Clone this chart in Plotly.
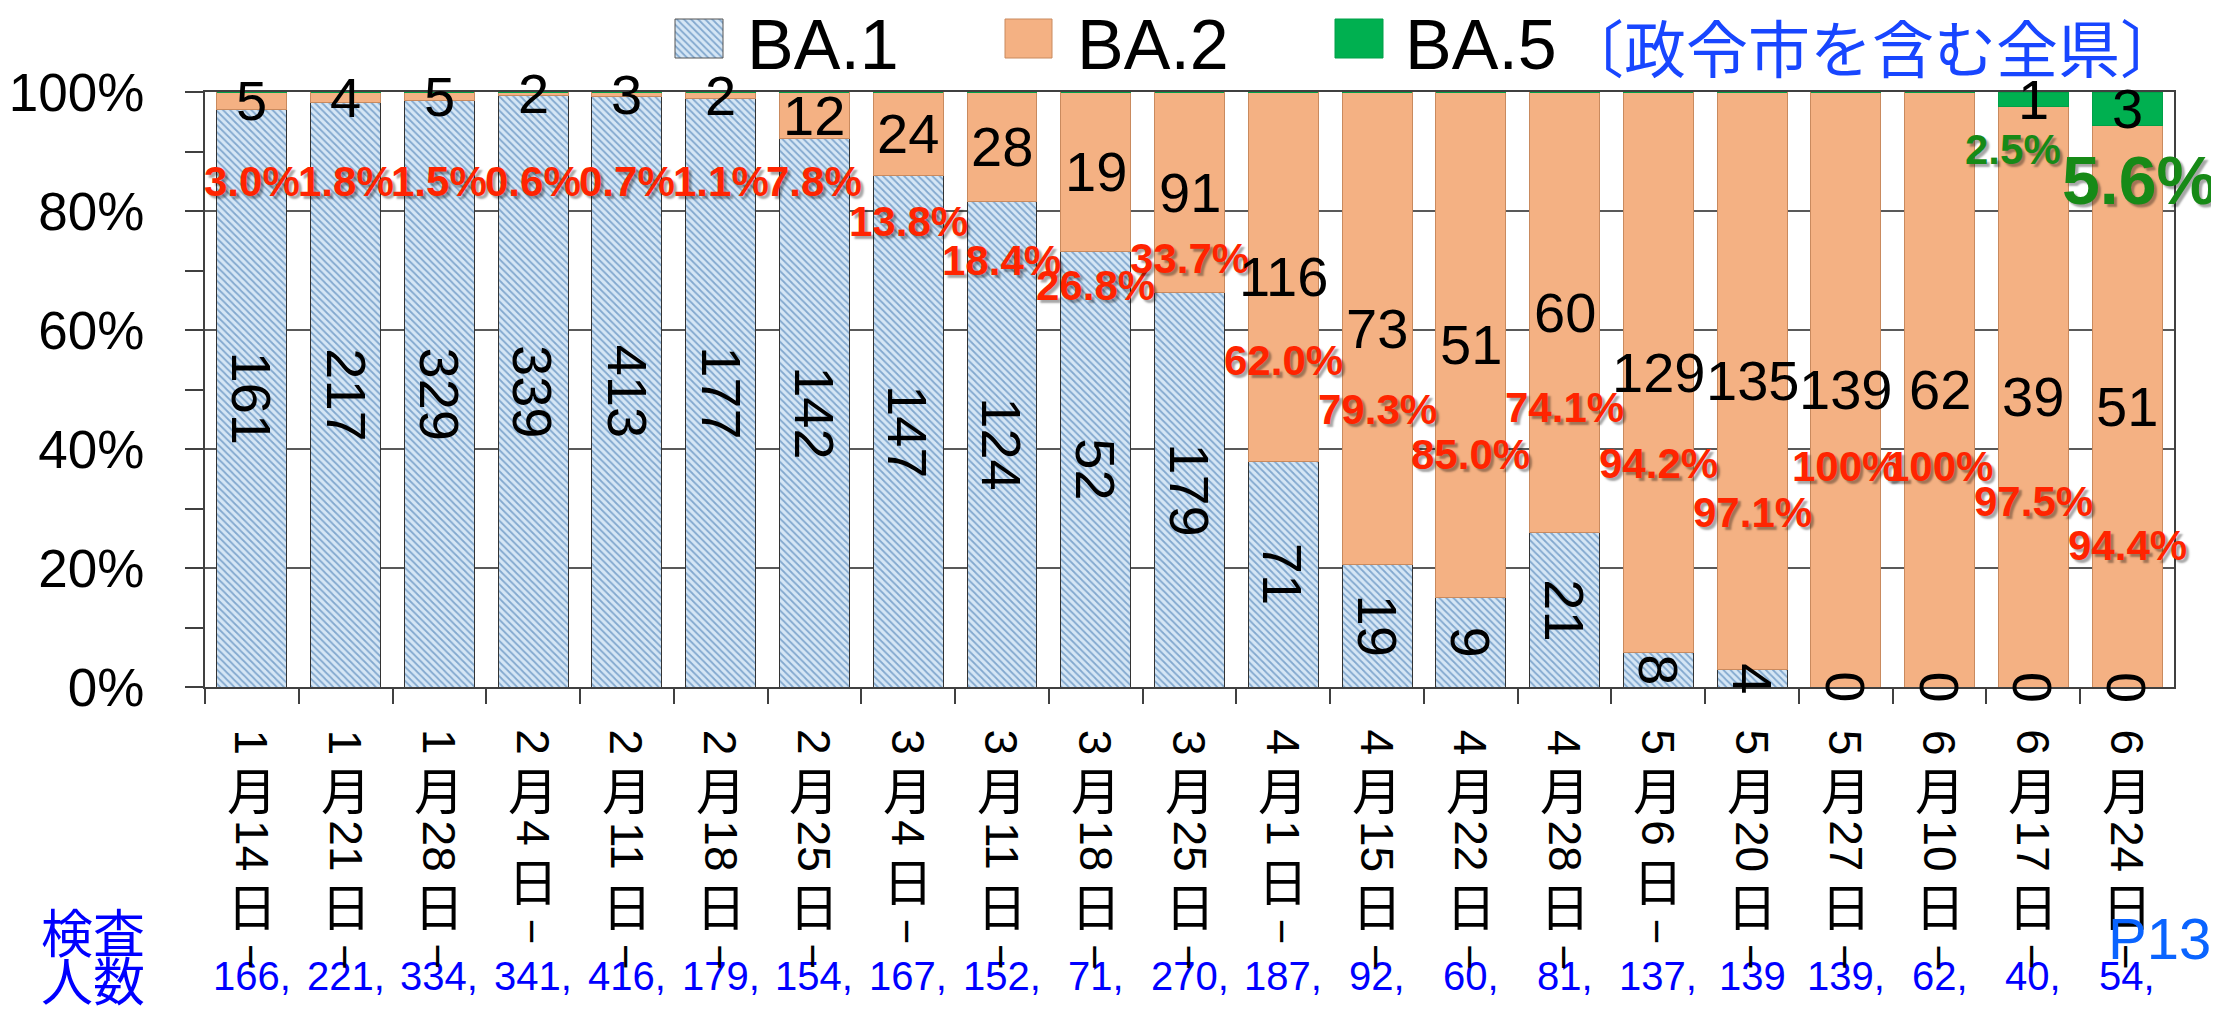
import re
import plotly.graph_objects as go

# ---------------- data ----------------
categories = ["1月14日−", "1月21日−", "1月28日−", "2月4日−", "2月11日−", "2月18日−",
              "2月25日−", "3月4日−", "3月11日−", "3月18日−", "3月25日−", "4月1日−",
              "4月15日−", "4月22日−", "4月28日−", "5月6日−", "5月20日−", "5月27日−",
              "6月10日−", "6月17日−", "6月24日−"]
ba1 = [161, 217, 329, 339, 413, 177, 142, 147, 124, 52, 179, 71, 19, 9, 21, 8, 4, 0, 0, 0, 0]
ba2 = [5, 4, 5, 2, 3, 2, 12, 24, 28, 19, 91, 116, 73, 51, 60, 129, 135, 139, 62, 39, 51]
ba5 = [0, 0, 0, 0, 0, 0, 0, 0, 0, 0, 0, 0, 0, 0, 0, 0, 0, 0, 0, 1, 3]
ba2_pct = ["3.0%", "1.8%", "1.5%", "0.6%", "0.7%", "1.1%", "7.8%", "13.8%", "18.4%", "26.8%",
           "33.7%", "62.0%", "79.3%", "85.0%", "74.1%", "94.2%", "97.1%", "100%", "100%",
           "97.5%", "94.4%"]
ba5_pct = ["", "", "", "", "", "", "", "", "", "", "", "", "", "", "", "", "", "", "",
           "2.5%", "5.6%"]
tested = ["166,", "221,", "334,", "341,", "416,", "179,", "154,", "167,", "152,", "71,",
          "270,", "187,", "92,", "60,", "81,", "137,", "139", "139,", "62,", "40,", "54,"]

# ---------------- layout helpers ----------------
W, H = 2219, 1011
OFF = 8                  # page body margin
FW, FH = W - OFF, H - OFF
X0, X1 = 205, 2174      # plot area (page px)
Y0, Y1 = 92, 687

SANS = "Liberation Sans, Arial, sans-serif"
JP = "Noto Sans CJK JP, sans-serif"
RED = "#ff2400"
GREEN = "#178a17"
BLUE = "#0000ff"
SHADOW = "3px 3px 2px rgba(0,0,0,0.35)"

# where the red % labels sit (in % units of the y axis)
pct_label_y = [85, 85, 85, 85, 85, 85, 85, 78.2, 71.6, 67.4, 72.1, 54.8, 46.7, 39.0,
               46.9, 37.5, 29.4, 37.0, 37.0, 31.1, 23.7]

hatch = dict(shape="\\", fgcolor="#2f6aa8", bgcolor="#d5e6f5", size=5, solidity=0.35)

fig = go.Figure()
fig.add_trace(go.Bar(x=categories, y=ba1, name="BA.1",
                     marker=dict(color="#d5e6f5", pattern=hatch,
                                 line=dict(color="#333333", width=1))))
fig.add_trace(go.Bar(x=categories, y=ba2, name="BA.2",
                     marker=dict(color="#f4b183", line=dict(color="#c98a5e", width=1))))
fig.add_trace(go.Bar(x=categories, y=ba5, name="BA.5",
                     marker=dict(color="#00b050", line=dict(color="#00a048", width=1))))

# legend swatch with the hatch (pixel overlay axes)
fig.add_trace(go.Scatter(x=[675, 723, 723, 675, 675], y=[19, 19, 58, 58, 19],
                         xaxis="x2", yaxis="y2", mode="lines", fill="toself",
                         fillcolor="#d5e6f5", fillpattern=hatch,
                         line=dict(color="#555555", width=1), hoverinfo="skip"))

ann = []
for i, c in enumerate(categories):
    tot = ba1[i] + ba2[i] + ba5[i]
    p1 = ba1[i] / tot * 100
    p2 = ba2[i] / tot * 100
    p5 = ba5[i] / tot * 100
    ann.append(dict(x=c, y=p1 / 2, text=str(ba1[i]), textangle=90,
                    font=dict(size=56, family=SANS, color="black")))
    ann.append(dict(x=c, y=p1 + p2 / 2, text=str(ba2[i]),
                    font=dict(size=56, family=SANS, color="black")))
    if ba5[i] > 0:
        ann.append(dict(x=c, y=p1 + p2 + p5 / 2, text=str(ba5[i]),
                        font=dict(size=56, family=SANS, color="black")))
    ann.append(dict(x=c, y=pct_label_y[i], text=ba2_pct[i],
                    font=dict(size=42, family=SANS, color=RED, weight="bold", shadow=SHADOW)))
    # blue tested counts
    ann.append(dict(x=c, xref="x", y=976, yref="y2", text=tested[i],
                    font=dict(size=40, family=SANS, color=BLUE)))
    # vertical date label, token by token
    ypos = 730
    for tok in re.findall(r"\d+|月|日|−", c):
        if tok.isdigit():
            h = 25 * len(tok)
            ann.append(dict(x=c, y=ypos + h / 2, yref="y2", text=tok, textangle=90,
                            font=dict(size=46, family=SANS, color="black")))
        elif tok == "−":
            h = 40
            ann.append(dict(x=c, y=ypos + h / 2, yref="y2", text=tok, textangle=90,
                            font=dict(size=44, family=SANS, color="black")))
        else:
            h = 66
            ann.append(dict(x=c, y=ypos + h / 2, yref="y2", text=tok,
                            font=dict(size=50, family=JP, color="black")))
        ypos += h

# BA.5 percentages
ann.append(dict(x=categories[19], y=90.3, xshift=-20, text=ba5_pct[19],
                font=dict(size=42, family=SANS, color=GREEN, weight="bold", shadow=SHADOW)))
ann.append(dict(x=categories[20], y=85.2, xshift=12, text=ba5_pct[20],
                font=dict(size=68, family=SANS, color=GREEN, weight="bold", shadow=SHADOW)))

# legend texts, title, footers (page pixel coordinates)
for txt, x in [("BA.1", 745), ("BA.2", 1075), ("BA.5", 1403)]:
    ann.append(dict(x=x, y=45, xref="x2", yref="y2", text=txt, xanchor="left",
                    font=dict(size=70, family=SANS, color="black")))
ann.append(dict(x=1560, y=46, xref="x2", yref="y2", text="〔政令市を含む全県〕", xanchor="left",
                font=dict(size=62, family=JP, color="#1846ff")))
ann.append(dict(x=93, y=930, xref="x2", yref="y2", text="検査",
                font=dict(size=52, family=JP, color=BLUE)))
ann.append(dict(x=93, y=978, xref="x2", yref="y2", text="人数",
                font=dict(size=52, family=JP, color=BLUE)))
ann.append(dict(x=2106, y=938, xref="x2", yref="y2", text="P13", xanchor="left",
                font=dict(size=58, family=SANS, color="#0a64ff")))

for a in ann:
    a.setdefault("xref", "x")
    a.setdefault("yref", "y")
    a["showarrow"] = False

shapes = [
    dict(type="rect", xref="x2", yref="y2", x0=1005, x1=1052, y0=19, y1=58,
         fillcolor="#f4b183", line=dict(color="#c98a5e", width=1)),
    dict(type="rect", xref="x2", yref="y2", x0=1335, x1=1383, y0=19, y1=58,
         fillcolor="#00b050", line=dict(color="#00a048", width=1)),
    dict(type="rect", xref="x2", yref="y2", x0=106, x1=2098, y0=-20, y1=4,
         line=dict(color="#ff1010", width=3)),
]

fig.update_layout(
    width=FW, height=FH, margin=dict(l=0, r=0, t=0, b=0, autoexpand=False),
    paper_bgcolor="white", plot_bgcolor="rgba(0,0,0,0)",
    barmode="stack", barnorm="percent", bargap=0.254,
    showlegend=False,
    font=dict(family=SANS, color="black"),
    annotations=ann, shapes=shapes,
    xaxis=dict(domain=[(X0 - OFF) / FW, (X1 - OFF) / FW], type="category",
               range=[-0.5, 20.5], showticklabels=False,
               ticks="outside", tickson="boundaries", ticklen=15, tickwidth=2,
               tickcolor="#404040", showline=True, linecolor="#404040", linewidth=2,
               mirror=True, showgrid=False),
    yaxis=dict(domain=[1 - (Y1 - OFF) / FH, 1 - (Y0 - OFF) / FH], range=[0, 100],
               dtick=20, ticksuffix="%",
               ticks="outside", ticklen=18, tickwidth=2, tickcolor="#404040",
               tickfont=dict(size=53, family=SANS, color="black"), ticklabelstandoff=30,
               showline=True, linecolor="#404040", linewidth=2, mirror=True,
               showgrid=True, gridcolor="#595959", gridwidth=2, zeroline=False,
               minor=dict(dtick=10, ticks="outside", ticklen=18, tickwidth=2,
                          tickcolor="#404040", showgrid=False)),
    xaxis2=dict(domain=[0, 1], range=[OFF, W], anchor="y2", visible=False),
    yaxis2=dict(domain=[0, 1], range=[H, OFF], anchor="x2", visible=False),
)

fig.write_html("out.html")
